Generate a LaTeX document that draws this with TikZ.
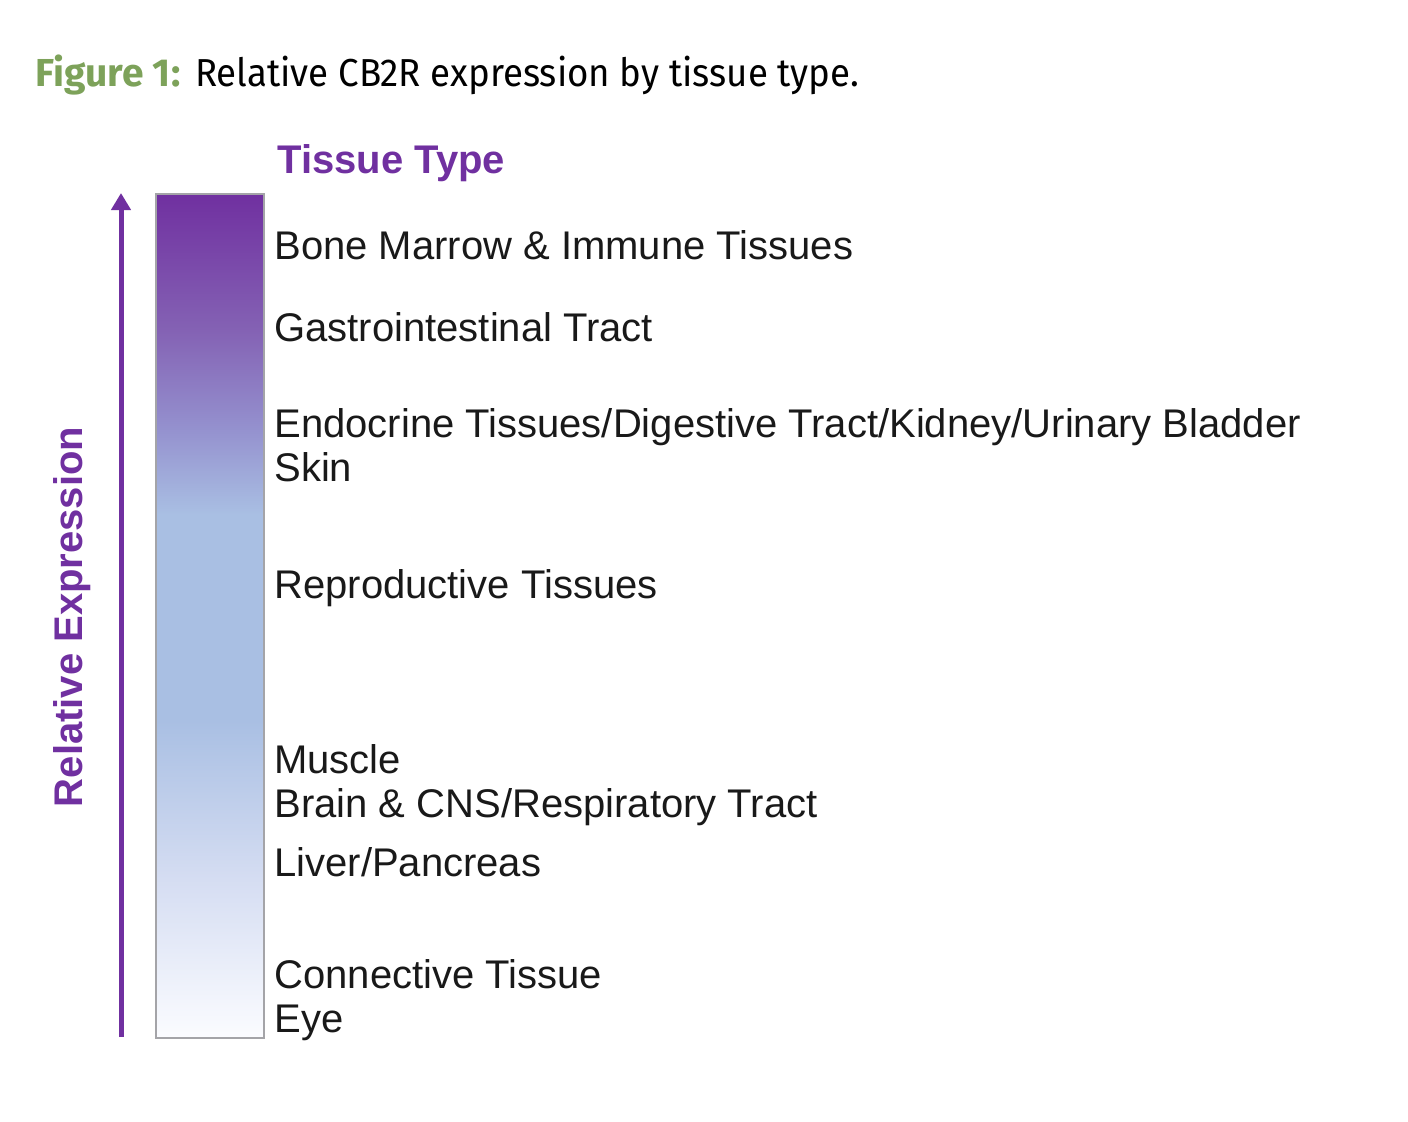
\documentclass[tikz,border=0pt]{standalone}
\usepackage{fontspec}
\setmainfont{Liberation Sans}
\newfontfamily\capfont[FakeStretch=0.94]{Fira Sans}
\newfontfamily\capboldfont{Fira Sans}
\usetikzlibrary{arrows.meta}

\definecolor{tpurple}{HTML}{7030A0}
\definecolor{figgreen}{HTML}{7DA25A}
\definecolor{barbord}{HTML}{A4A4A8}
\definecolor{gtop}{HTML}{7030A0}
\definecolor{gpurp}{HTML}{8462B4}
\definecolor{glav}{HTML}{9490CE}
\definecolor{gblue}{HTML}{A9BFE3}
\definecolor{gpale}{HTML}{D5DDF2}
\definecolor{glow}{HTML}{FBFCFF}

% bar shading: 25bp = bottom of bar, 75bp = top of bar
\pgfdeclareverticalshading{tissuegrad}{100bp}{color(0bp)=(glow); color(25bp)=(glow);
  color(34.4bp)=(gpale); color(43.8bp)=(gblue); color(56bp)=(gblue);
  color(61.2bp)=(glav); color(66.9bp)=(gpurp); color(75bp)=(gtop); color(100bp)=(gtop)}

\tikzset{
  tissuelabel/.style={anchor=base west, inner sep=0pt, text=black!90,
    font=\fontsize{20}{24}\selectfont},
  headlabel/.style={anchor=base west, inner sep=0pt, text=tpurple,
    font=\fontsize{20}{24}\selectfont\bfseries}
}

\begin{document}
\begin{tikzpicture}[x=0.5pt,y=-0.5pt]
  \useasboundingbox (0,0) rectangle (1408,1121);

  % caption
  \node (cap) [anchor=base west, inner sep=0pt, font=\capfont\fontsize{19.5}{23}\selectfont]
    at (35,86) {{\capboldfont\color{figgreen}\bfseries Figure 1:}\hspace{1pt} Relative CB2R expression by tissue type.};

  % gradient bar
  \node (bar) [draw=barbord, line width=1pt, shading=tissuegrad, inner sep=0pt,
    minimum width=54pt, minimum height=422pt] at (210,616) {};

  % arrow
  \coordinate (arrbot) at (121,1037);
  \coordinate (arrtop) at (121,193);
  \draw[tpurple, line width=2.5pt, -{Triangle[length=8.5pt,width=9.5pt]}] (arrbot) -- (arrtop);

  \node (axis) [headlabel, anchor=center, rotate=90] at (72,617) {Relative Expression};
  \node (head) [headlabel] at (277,173) {Tissue Type};

  \foreach \yy/\txt [count=\i] in {259/{Bone Marrow \& Immune Tissues},
      341/{Gastrointestinal Tract},
      437/{Endocrine Tissues/Digestive Tract/Kidney/Urinary Bladder},
      481/{Skin},
      598/{Reproductive Tissues},
      773/{Muscle},
      817/{Brain \& CNS/Respiratory Tract},
      876/{Liver/Pancreas},
      988/{Connective Tissue},
      1032/{Eye}}{
    \node (lab\i) [tissuelabel] at (274,\yy) {\txt};
  }
\end{tikzpicture}
\end{document}
